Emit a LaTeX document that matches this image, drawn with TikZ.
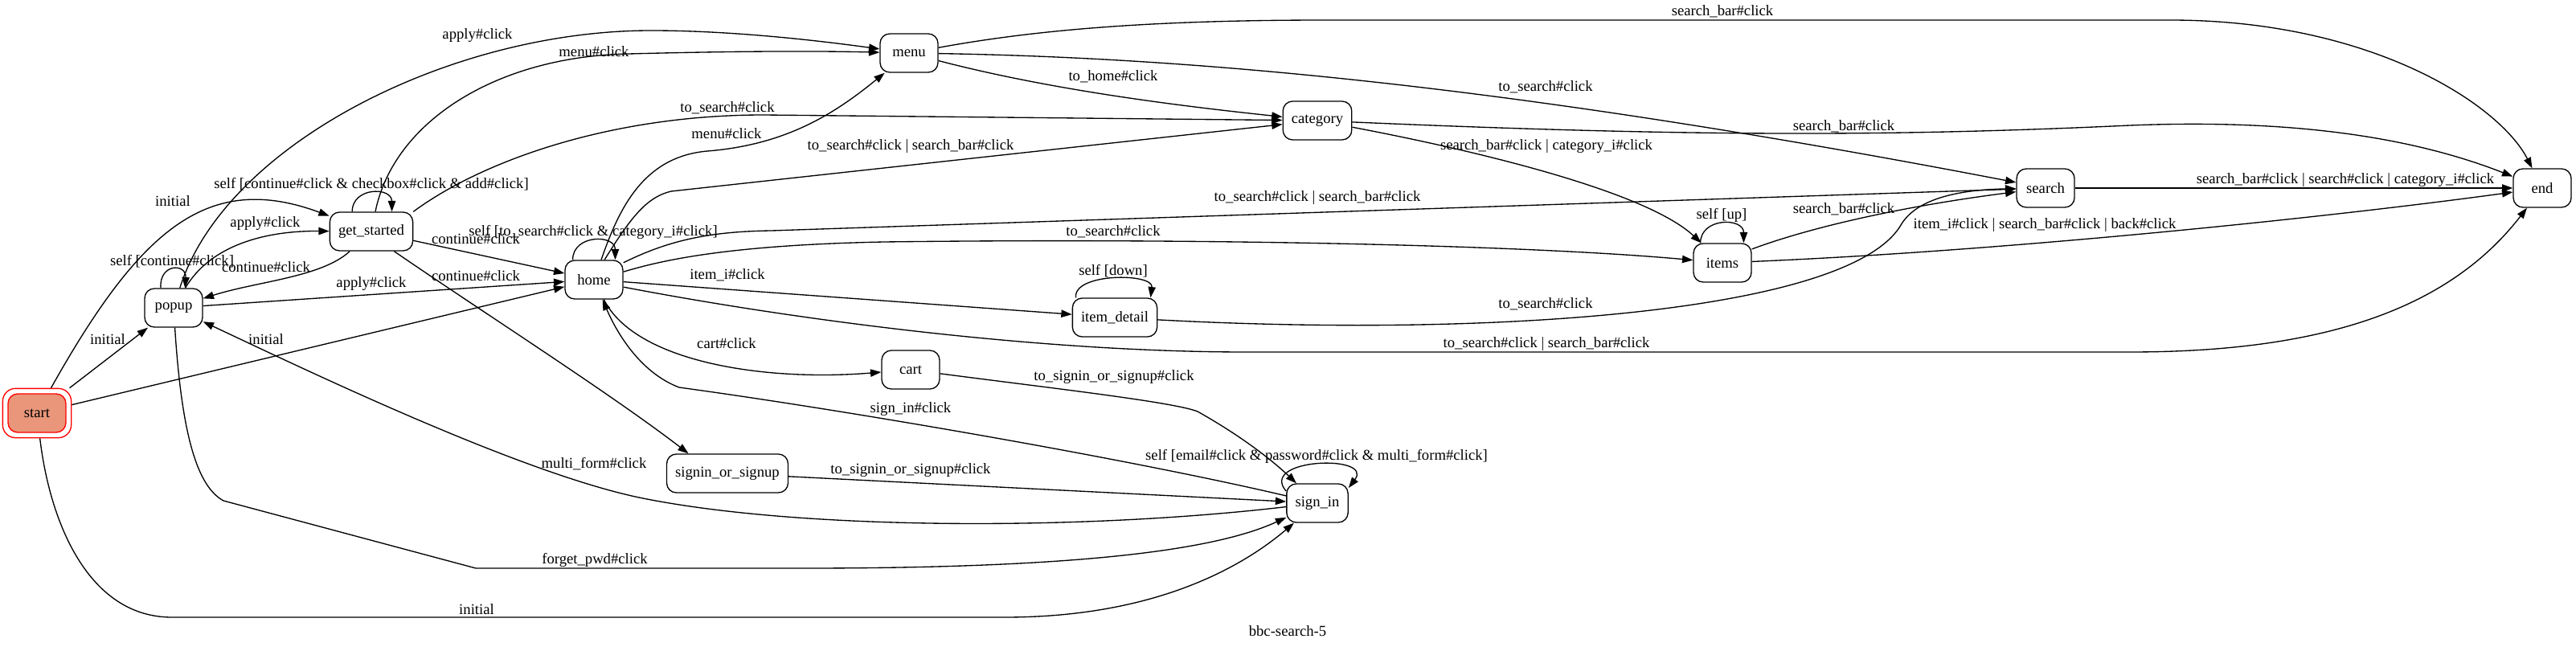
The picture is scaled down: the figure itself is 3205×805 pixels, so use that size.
\documentclass[tikz,border=0pt]{standalone}
\usepackage{fontspec}
\setmainfont{Liberation Serif}
\usetikzlibrary{arrows.meta, fit}

\definecolor{startfill}{RGB}{233,150,122}

\begin{document}
\begin{tikzpicture}[
    x=0.75pt, y=-0.75pt,
    screen/.style={
        rectangle, rounded corners=9pt,
        draw=black, line width=1pt,
        minimum width=54pt, minimum height=36pt,
        inner xsep=8pt,
        font=\fontsize{14}{16}\selectfont
    },
    arrow/.style={
        -{Triangle[length=10pt,width=7pt]}, line width=1pt
    },
    lbl/.style={
        font=\fontsize{14}{16}\selectfont, inner sep=0pt
    }
]
\useasboundingbox (0,0) rectangle (3205,805);

% Start state (double red border)
\node[screen, draw=red, fill=startfill] (startcore) at (46,514) {start};
\node[draw=red, line width=1pt, rounded corners=12pt, inner sep=4.5pt, fit=(startcore)] (start) {};

% Screens
\node[screen] (popup) at (216,383) {popup};
\node[screen] (getstarted) at (462,288) {get\_started};
\node[screen] (home) at (739,348) {home};
\node[screen] (menu) at (1131,66) {menu};
\node[screen] (category) at (1639,150) {category};
\node[screen] (cart) at (1133,460) {cart};
\node[screen] (signinup) at (905,589) {signin\_or\_signup};
\node[screen] (itemdetail) at (1387,395) {item\_detail};
\node[screen] (signin) at (1639,626) {sign\_in};
\node[screen] (items) at (2143,327) {items};
\node[screen] (search) at (2545,234) {search};
\node[screen] (finish) at (3163,234) {end};

% From start
\draw[arrow] (start) -- (popup) node[lbl] (t1) at (134,422) {initial};
\draw[arrow] (start) .. controls (175,284) and (259,213) .. (getstarted) node[lbl] (t2) at (215,250) {initial};
\draw[arrow] (start) -- (home) node[lbl] (t3) at (331,422) {initial};
\draw[arrow] (start) .. controls (62,650) and (110,768) .. (214,768) -- (1250,768) .. controls (1430,768) and (1540,710) .. (signin) node[lbl] (t4) at (593,758) {initial};

% From popup
\draw[arrow] (popup.123) .. controls +(-2,-31) and +(2,-31) .. (popup.60) node[lbl] (t5) at (214,325) {self [continue\#click]};
\draw[arrow] (popup) .. controls (262,305) and (330,287) .. (getstarted) node[lbl] (t6) at (330,278) {apply\#click};
\draw[arrow] (popup) -- (home) node[lbl] (t7) at (462,353) {apply\#click};
\draw[arrow] (popup) .. controls (280,180) and (560,38) .. (810,38) .. controls (900,38) and (1000,48) .. (menu) node[lbl] (t8) at (594,44) {apply\#click};
\draw[arrow] (popup) .. controls (226,540) and (245,605) .. (278,623) -- (592,707) -- (1000,707) .. controls (1300,707) and (1500,690) .. (signin) node[lbl] (t9) at (740,697) {forget\_pwd\#click};

% From get_started
\draw[arrow] (getstarted.134) .. controls +(0,-31) and +(0,-31) .. (getstarted.44) node[lbl] (t10) at (462,229) {self [continue\#click \& checkbox\#click \& add\#click]};
\draw[arrow] (getstarted) .. controls (400,345) and (320,350) .. (popup) node[lbl] (t11) at (331,332) {continue\#click};
\draw[arrow] (getstarted) -- (home) node[lbl] (t12) at (592,297) {continue\#click};
\draw[arrow] (getstarted) .. controls (490,150) and (620,70) .. (782,67) .. controls (900,64) and (1000,63) .. (menu) node[lbl] (t13) at (739,64) {menu\#click};
\draw[arrow] (getstarted.north east) .. controls (600,200) and (760,143) .. (950,143) -- (category) node[lbl] (t14) at (905,134) {to\_search\#click};
\draw[arrow] (getstarted.-41) .. controls (600,388) and (760,490) .. (signinup.153) node[lbl] (t15) at (592,343) {continue\#click};

% From home
\draw[arrow] (home.137) .. controls +(0,-32) and +(0,-32) .. (home.43) node[lbl] (t16) at (738,289) {self [to\_search\#click \& category\_i\#click]};
\draw[arrow] (home.70) .. controls (770,260) and (800,195) .. (880,188) .. controls (980,180) and (1040,140) .. (menu) node[lbl] (t17) at (904,166) {menu\#click};
\draw[arrow] (home.62) .. controls (785,270) and (805,245) .. (835,238) -- (category) node[lbl] (t18) at (1133,182) {to\_search\#click | search\_bar\#click};
\draw[arrow] (home.30) .. controls (830,300) and (880,288) .. (960,287) -- (search) node[lbl] (t19) at (1639,246) {to\_search\#click | search\_bar\#click};
\draw[arrow] (home.15) .. controls (820,325) and (900,305) .. (1100,301) .. controls (1500,296) and (1900,305) .. (items) node[lbl] (t20) at (1385,288) {to\_search\#click};
\draw[arrow] (home) -- (itemdetail) node[lbl] (t21) at (905,342) {item\_i\#click};
\draw[arrow] (home.-14) .. controls (1000,400) and (1300,438) .. (1550,438) -- (2650,438) .. controls (2900,438) and (3050,380) .. (finish) node[lbl] (t22) at (1924,428) {to\_search\#click | search\_bar\#click};
\draw[arrow] (home) .. controls (790,450) and (950,475) .. (cart) node[lbl] (t23) at (904,427) {cart\#click};

% Back from sign_in
\draw[arrow] (signin) .. controls (1400,570) and (1050,510) .. (845,482) .. controls (800,465) and (770,420) .. (home) node[lbl] (t24) at (1133,509) {sign\_in\#click};
\draw[arrow] (signin) .. controls (1350,660) and (1000,660) .. (800,620) .. controls (650,590) and (380,460) .. (popup) node[lbl] (t25) at (739,577) {multi\_form\#click};

% From menu
\draw[arrow] (menu) .. controls (1300,35) and (1450,25) .. (1650,25) -- (2700,25) .. controls (2950,25) and (3110,130) .. (finish) node[lbl] (t26) at (2143,14) {search\_bar\#click};
\draw[arrow] (menu) .. controls (1300,110) and (1450,130) .. (category) node[lbl] (t27) at (1385,95) {to\_home\#click};
\draw[arrow] (menu) .. controls (1500,72) and (1900,110) .. (search) node[lbl] (t28) at (1923,108) {to\_search\#click};

% From category
\draw[arrow] (category) .. controls (2100,170) and (2350,170) .. (2650,156) .. controls (2850,148) and (3000,170) .. (finish) node[lbl] (t29) at (2294,157) {search\_bar\#click};
\draw[arrow] (category) .. controls (1850,190) and (2050,240) .. (items) node[lbl] (t30) at (1924,182) {search\_bar\#click | category\_i\#click};

% From items
\draw[arrow] (items.138) .. controls +(0,-32) and +(0,-32) .. (items.43) node[lbl] (t31) at (2142,268) {self [up]};
\draw[arrow] (items.25) .. controls (2260,280) and (2380,255) .. (search) node[lbl] (t32) at (2294,260) {search\_bar\#click};
\draw[arrow] (items) .. controls (2500,312) and (2900,270) .. (finish) node[lbl] (t33) at (2544,280) {item\_i\#click | search\_bar\#click | back\#click};

% From item_detail
\draw[arrow] (itemdetail.153) .. controls +(-4,-31) and +(4,-31) .. (itemdetail.29) node[lbl] (t34) at (1385,337) {self [down]};
\draw[arrow] (itemdetail) .. controls (1850,420) and (2300,390) .. (2365,280) .. controls (2385,246) and (2440,236) .. (search) node[lbl] (t35) at (1923,378) {to\_search\#click};

% From search
\draw[arrow] (search) -- (finish) node[lbl] (t36) at (2918,224) {search\_bar\#click | search\#click | category\_i\#click};

% Into sign_in
\draw[arrow] (cart) .. controls (1300,482) and (1460,500) .. (1490,512) .. controls (1540,540) and (1580,570) .. (signin) node[lbl] (t37) at (1386,469) {to\_signin\_or\_signup\#click};
\draw[arrow] (signinup) -- (signin) node[lbl] (t38) at (1133,585) {to\_signin\_or\_signup\#click};
\draw[arrow] (signin.159) .. controls (1565,570) and (1710,565) .. (signin.26) node[lbl] (t39) at (1638,568) {self [email\#click \& password\#click \& multi\_form\#click]};

% Graph name
\node[lbl] (caption) at (1602,785) {bbc-search-5};

\end{tikzpicture}
\end{document}
